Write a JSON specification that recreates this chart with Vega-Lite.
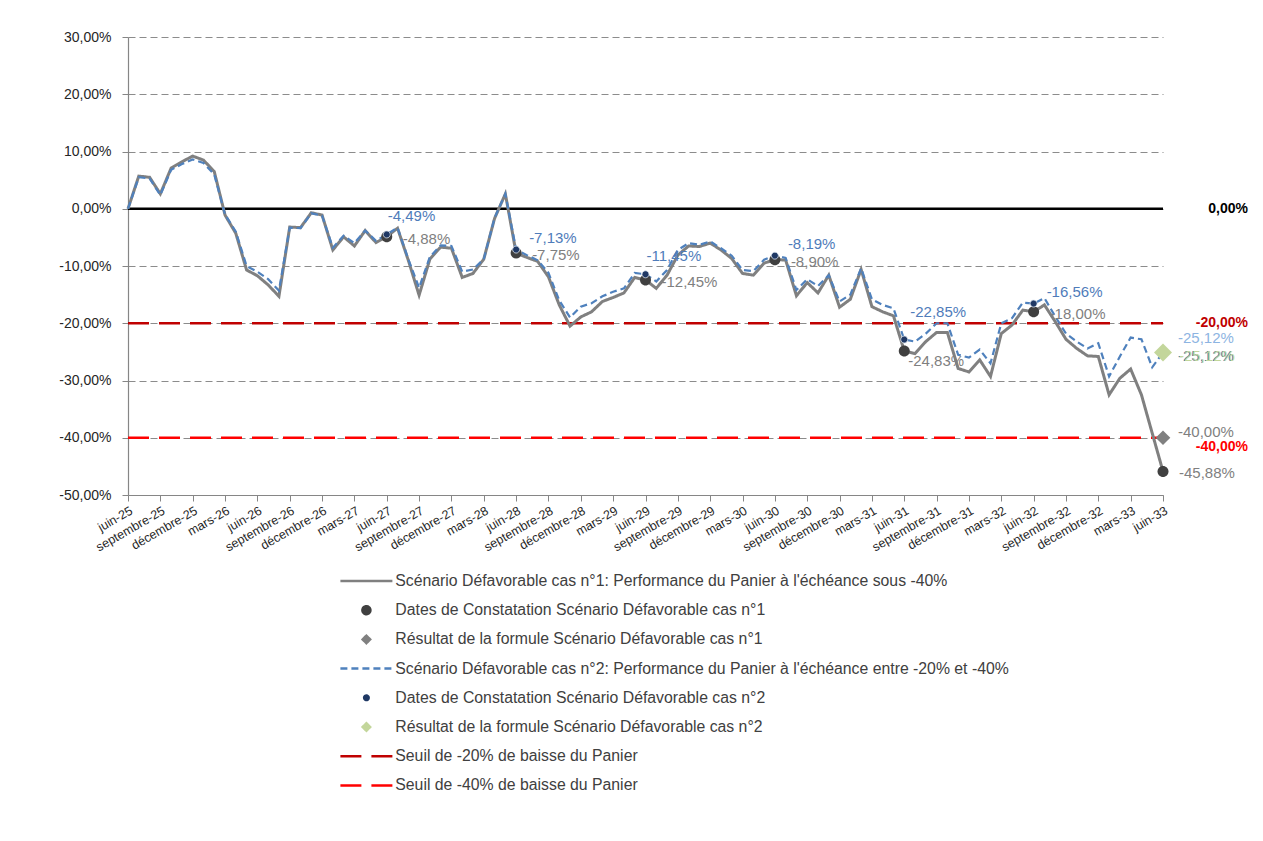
{
  "$schema": "https://vega.github.io/schema/vega-lite/v6.json",
  "width": 1035,
  "height": 458,
  "autosize": {"type": "none"},
  "padding": {"left": 128, "top": 37, "right": 100, "bottom": 346},
  "background": "white",
  "config": {
    "font": "Liberation Sans",
    "view": {"stroke": null},
    "locale": {
      "number": {"decimal": ",", "thousands": " ", "grouping": [3], "currency": ["", " €"], "minus": "-", "percent": "%"}
    }
  },
  "datasets": {
    "perf": [
      {"m": 0, "date": "2025-06", "cas1": 0, "cas2": 0},
      {"m": 1, "date": "2025-07", "cas1": 0.057, "cas2": 0.055},
      {"m": 2, "date": "2025-08", "cas1": 0.055, "cas2": 0.053},
      {"m": 3, "date": "2025-09", "cas1": 0.026, "cas2": 0.024},
      {"m": 4, "date": "2025-10", "cas1": 0.071, "cas2": 0.068},
      {"m": 5, "date": "2025-11", "cas1": 0.082, "cas2": 0.078},
      {"m": 6, "date": "2025-12", "cas1": 0.092, "cas2": 0.086},
      {"m": 7, "date": "2026-01", "cas1": 0.085, "cas2": 0.080},
      {"m": 8, "date": "2026-02", "cas1": 0.065, "cas2": 0.060},
      {"m": 9, "date": "2026-03", "cas1": -0.011, "cas2": -0.010},
      {"m": 10, "date": "2026-04", "cas1": -0.043, "cas2": -0.040},
      {"m": 11, "date": "2026-05", "cas1": -0.107, "cas2": -0.100},
      {"m": 12, "date": "2026-06", "cas1": -0.117, "cas2": -0.110},
      {"m": 13, "date": "2026-07", "cas1": -0.133, "cas2": -0.123},
      {"m": 14, "date": "2026-08", "cas1": -0.153, "cas2": -0.143},
      {"m": 15, "date": "2026-09", "cas1": -0.032, "cas2": -0.033},
      {"m": 16, "date": "2026-10", "cas1": -0.033, "cas2": -0.034},
      {"m": 17, "date": "2026-11", "cas1": -0.007, "cas2": -0.008},
      {"m": 18, "date": "2026-12", "cas1": -0.011, "cas2": -0.012},
      {"m": 19, "date": "2027-01", "cas1": -0.072, "cas2": -0.068},
      {"m": 20, "date": "2027-02", "cas1": -0.049, "cas2": -0.047},
      {"m": 21, "date": "2027-03", "cas1": -0.065, "cas2": -0.060},
      {"m": 22, "date": "2027-04", "cas1": -0.038, "cas2": -0.038},
      {"m": 23, "date": "2027-05", "cas1": -0.059, "cas2": -0.056},
      {"m": 24, "date": "2027-06", "cas1": -0.0488, "cas2": -0.0449},
      {"m": 25, "date": "2027-07", "cas1": -0.034, "cas2": -0.033},
      {"m": 26, "date": "2027-08", "cas1": -0.090, "cas2": -0.088},
      {"m": 27, "date": "2027-09", "cas1": -0.151, "cas2": -0.138},
      {"m": 28, "date": "2027-10", "cas1": -0.088, "cas2": -0.084},
      {"m": 29, "date": "2027-11", "cas1": -0.067, "cas2": -0.064},
      {"m": 30, "date": "2027-12", "cas1": -0.069, "cas2": -0.065},
      {"m": 31, "date": "2028-01", "cas1": -0.120, "cas2": -0.110},
      {"m": 32, "date": "2028-02", "cas1": -0.113, "cas2": -0.106},
      {"m": 33, "date": "2028-03", "cas1": -0.088, "cas2": -0.088},
      {"m": 34, "date": "2028-04", "cas1": -0.017, "cas2": -0.016},
      {"m": 35, "date": "2028-05", "cas1": 0.026, "cas2": 0.026},
      {"m": 36, "date": "2028-06", "cas1": -0.0775, "cas2": -0.0713},
      {"m": 37, "date": "2028-07", "cas1": -0.085, "cas2": -0.081},
      {"m": 38, "date": "2028-08", "cas1": -0.092, "cas2": -0.090},
      {"m": 39, "date": "2028-09", "cas1": -0.119, "cas2": -0.112},
      {"m": 40, "date": "2028-10", "cas1": -0.168, "cas2": -0.160},
      {"m": 41, "date": "2028-11", "cas1": -0.205, "cas2": -0.190},
      {"m": 42, "date": "2028-12", "cas1": -0.189, "cas2": -0.171},
      {"m": 43, "date": "2029-01", "cas1": -0.180, "cas2": -0.165},
      {"m": 44, "date": "2029-02", "cas1": -0.162, "cas2": -0.153},
      {"m": 45, "date": "2029-03", "cas1": -0.155, "cas2": -0.145},
      {"m": 46, "date": "2029-04", "cas1": -0.147, "cas2": -0.139},
      {"m": 47, "date": "2029-05", "cas1": -0.120, "cas2": -0.112},
      {"m": 48, "date": "2029-06", "cas1": -0.1245, "cas2": -0.1145},
      {"m": 49, "date": "2029-07", "cas1": -0.139, "cas2": -0.127},
      {"m": 50, "date": "2029-08", "cas1": -0.116, "cas2": -0.107},
      {"m": 51, "date": "2029-09", "cas1": -0.081, "cas2": -0.072},
      {"m": 52, "date": "2029-10", "cas1": -0.065, "cas2": -0.060},
      {"m": 53, "date": "2029-11", "cas1": -0.066, "cas2": -0.063},
      {"m": 54, "date": "2029-12", "cas1": -0.060, "cas2": -0.057},
      {"m": 55, "date": "2030-01", "cas1": -0.072, "cas2": -0.069},
      {"m": 56, "date": "2030-02", "cas1": -0.087, "cas2": -0.082},
      {"m": 57, "date": "2030-03", "cas1": -0.113, "cas2": -0.107},
      {"m": 58, "date": "2030-04", "cas1": -0.116, "cas2": -0.109},
      {"m": 59, "date": "2030-05", "cas1": -0.095, "cas2": -0.089},
      {"m": 60, "date": "2030-06", "cas1": -0.0890, "cas2": -0.0819},
      {"m": 61, "date": "2030-07", "cas1": -0.0895, "cas2": -0.086},
      {"m": 62, "date": "2030-08", "cas1": -0.152, "cas2": -0.142},
      {"m": 63, "date": "2030-09", "cas1": -0.129, "cas2": -0.123},
      {"m": 64, "date": "2030-10", "cas1": -0.147, "cas2": -0.135},
      {"m": 65, "date": "2030-11", "cas1": -0.116, "cas2": -0.116},
      {"m": 66, "date": "2030-12", "cas1": -0.172, "cas2": -0.162},
      {"m": 67, "date": "2031-01", "cas1": -0.158, "cas2": -0.150},
      {"m": 68, "date": "2031-02", "cas1": -0.106, "cas2": -0.104},
      {"m": 69, "date": "2031-03", "cas1": -0.171, "cas2": -0.158},
      {"m": 70, "date": "2031-04", "cas1": -0.180, "cas2": -0.168},
      {"m": 71, "date": "2031-05", "cas1": -0.187, "cas2": -0.174},
      {"m": 72, "date": "2031-06", "cas1": -0.2483, "cas2": -0.2285},
      {"m": 73, "date": "2031-07", "cas1": -0.253, "cas2": -0.232},
      {"m": 74, "date": "2031-08", "cas1": -0.232, "cas2": -0.218},
      {"m": 75, "date": "2031-09", "cas1": -0.216, "cas2": -0.200},
      {"m": 76, "date": "2031-10", "cas1": -0.216, "cas2": -0.200},
      {"m": 77, "date": "2031-11", "cas1": -0.279, "cas2": -0.255},
      {"m": 78, "date": "2031-12", "cas1": -0.285, "cas2": -0.260},
      {"m": 79, "date": "2032-01", "cas1": -0.264, "cas2": -0.246},
      {"m": 80, "date": "2032-02", "cas1": -0.293, "cas2": -0.270},
      {"m": 81, "date": "2032-03", "cas1": -0.218, "cas2": -0.200},
      {"m": 82, "date": "2032-04", "cas1": -0.203, "cas2": -0.191},
      {"m": 83, "date": "2032-05", "cas1": -0.177, "cas2": -0.164},
      {"m": 84, "date": "2032-06", "cas1": -0.1800, "cas2": -0.1656},
      {"m": 85, "date": "2032-07", "cas1": -0.168, "cas2": -0.156},
      {"m": 86, "date": "2032-08", "cas1": -0.197, "cas2": -0.188},
      {"m": 87, "date": "2032-09", "cas1": -0.228, "cas2": -0.218},
      {"m": 88, "date": "2032-10", "cas1": -0.244, "cas2": -0.232},
      {"m": 89, "date": "2032-11", "cas1": -0.257, "cas2": -0.244},
      {"m": 90, "date": "2032-12", "cas1": -0.258, "cas2": -0.235},
      {"m": 91, "date": "2033-01", "cas1": -0.325, "cas2": -0.293},
      {"m": 92, "date": "2033-02", "cas1": -0.296, "cas2": -0.258},
      {"m": 93, "date": "2033-03", "cas1": -0.280, "cas2": -0.225},
      {"m": 94, "date": "2033-04", "cas1": -0.325, "cas2": -0.228},
      {"m": 95, "date": "2033-05", "cas1": -0.392, "cas2": -0.277},
      {"m": 96, "date": "2033-06", "cas1": -0.4588, "cas2": -0.2512}
    ],
    "constat": [
      {"m": 24, "date": "2027-06", "cas1": -0.0488, "cas2": -0.0449},
      {"m": 36, "date": "2028-06", "cas1": -0.0775, "cas2": -0.0713},
      {"m": 48, "date": "2029-06", "cas1": -0.1245, "cas2": -0.1145},
      {"m": 60, "date": "2030-06", "cas1": -0.0890, "cas2": -0.0819},
      {"m": 72, "date": "2031-06", "cas1": -0.2483, "cas2": -0.2285},
      {"m": 84, "date": "2032-06", "cas1": -0.1800, "cas2": -0.1656},
      {"m": 96, "date": "2033-06", "cas1": -0.4588, "cas2": -0.2512}
    ],
    "resultat": [
      {"m": 96, "date": "2033-06", "cas1": -0.40, "cas2": -0.2512}
    ],
    "seuils": [
      {"m": 0, "m2": 96, "v": 0},
      {"m": 0, "m2": 96, "v": -0.2},
      {"m": 0, "m2": 96, "v": -0.4}
    ]
  },
  "encoding": {
    "x": {
      "field": "m", "type": "quantitative",
      "scale": {"domain": [0, 96], "nice": false, "zero": false},
      "axis": {
        "title": null, "grid": false,
        "values": [0, 3, 6, 9, 12, 15, 18, 21, 24, 27, 30, 33, 36, 39, 42, 45, 48, 51, 54, 57, 60, 63, 66, 69, 72, 75, 78, 81, 84, 87, 90, 93, 96],
        "labelExpr": "['juin','septembre','décembre','mars'][(datum.value/3)%4] + '-' + (25 + floor((datum.value+5)/12))",
        "labelAngle": -30, "labelAlign": "right", "labelBaseline": "top", "labelFontSize": 12.5, "labelColor": "#262626",
        "labelOverlap": false, "labelFlush": false, "labelBound": false, "labelPadding": 3,
        "tickSize": 6, "tickColor": "#868686", "domainColor": "#868686", "domainWidth": 1.2
      }
    }
  },
  "layer": [
    {
      "data": {"name": "seuils"},
      "transform": [{"filter": "datum.v === -0.2"}],
      "mark": {"type": "rule", "strokeWidth": 2.5},
      "encoding": {
        "x2": {"field": "m2"},
        "y": {
          "field": "v", "type": "quantitative",
          "scale": {"domain": [-0.5, 0.3], "nice": false, "zero": false},
          "axis": {
            "title": null, "format": ".2%", "values": [-0.5, -0.4, -0.3, -0.2, -0.1, 0, 0.1, 0.2, 0.3],
            "grid": true, "gridDash": [7, 4], "gridColor": "#8c8c8c", "gridWidth": 1.2,
            "domainColor": "#868686", "domainWidth": 1.2, "tickColor": "#868686", "tickSize": 6,
            "labelFontSize": 14, "labelColor": "#262626", "labelPadding": 11
          }
        },
        "color": {
          "datum": "Seuil de -20% de baisse du Panier",
          "scale": {
            "domain": [
              "Scénario Défavorable cas n°1: Performance du Panier à l'échéance sous -40%",
              "Dates de Constatation Scénario Défavorable cas n°1",
              "Résultat de la formule Scénario Défavorable cas n°1",
              "Scénario Défavorable cas n°2: Performance du Panier à l'échéance entre -20% et -40%",
              "Dates de Constatation Scénario Défavorable cas n°2",
              "Résultat de la formule Scénario Défavorable cas n°2",
              "Seuil de -20% de baisse du Panier",
              "Seuil de -40% de baisse du Panier"
            ],
            "range": ["#808080", "#404040", "#808080", "#4f81bd", "#1f3864", "#c3d69b", "#c00000", "#ff0000"]
          },
          "legend": {
            "orient": "none", "legendX": 212, "legendY": 535.5, "title": null, "direction": "vertical", "padding": 0,
            "symbolSize": 100, "symbolStrokeWidth": 2.5, "symbolOffset": 18.5, "labelOffset": 21,
            "labelFontSize": 15.8, "labelColor": "#404040", "labelLimit": 900, "rowPadding": 12.2, "clipHeight": 17
          }
        },
        "strokeDash": {
          "datum": "Seuil de -20% de baisse du Panier",
          "scale": {
            "domain": [
              "Scénario Défavorable cas n°1: Performance du Panier à l'échéance sous -40%",
              "Dates de Constatation Scénario Défavorable cas n°1",
              "Résultat de la formule Scénario Défavorable cas n°1",
              "Scénario Défavorable cas n°2: Performance du Panier à l'échéance entre -20% et -40%",
              "Dates de Constatation Scénario Défavorable cas n°2",
              "Résultat de la formule Scénario Défavorable cas n°2",
              "Seuil de -20% de baisse du Panier",
              "Seuil de -40% de baisse du Panier"
            ],
            "range": [[1, 0], [1, 0], [1, 0], [7, 4], [1, 0], [1, 0], [21, 10], [21, 10]]
          }
        }
      }
    },
    {
      "data": {"name": "seuils"},
      "transform": [{"filter": "datum.v === -0.4"}],
      "mark": {"type": "rule", "strokeWidth": 2.5},
      "encoding": {
        "x2": {"field": "m2"},
        "y": {"field": "v", "type": "quantitative"},
        "color": {"datum": "Seuil de -40% de baisse du Panier"},
        "strokeDash": {"datum": "Seuil de -40% de baisse du Panier"}
      }
    },
    {
      "data": {"name": "seuils"},
      "transform": [{"filter": "datum.v === 0"}],
      "mark": {"type": "rule", "strokeWidth": 2.5, "color": "#000000"},
      "encoding": {
        "x2": {"field": "m2"},
        "y": {"field": "v", "type": "quantitative"}
      }
    },
    {
      "data": {"name": "perf"},
      "mark": {"type": "line", "strokeWidth": 3},
      "encoding": {
        "y": {"field": "cas1", "type": "quantitative"},
        "color": {"datum": "Scénario Défavorable cas n°1: Performance du Panier à l'échéance sous -40%"},
        "strokeDash": {"datum": "Scénario Défavorable cas n°1: Performance du Panier à l'échéance sous -40%"}
      }
    },
    {
      "data": {"name": "perf"},
      "mark": {"type": "line", "strokeWidth": 2.2},
      "encoding": {
        "y": {"field": "cas2", "type": "quantitative"},
        "color": {"datum": "Scénario Défavorable cas n°2: Performance du Panier à l'échéance entre -20% et -40%"},
        "strokeDash": {"datum": "Scénario Défavorable cas n°2: Performance du Panier à l'échéance entre -20% et -40%"}
      }
    },
    {
      "data": {"name": "constat"},
      "mark": {"type": "point", "filled": true, "size": 189, "opacity": 1},
      "encoding": {
        "y": {"field": "cas1", "type": "quantitative"},
        "color": {"datum": "Dates de Constatation Scénario Défavorable cas n°1"},
        "shape": {
          "datum": "Dates de Constatation Scénario Défavorable cas n°1",
          "scale": {
            "domain": [
              "Scénario Défavorable cas n°1: Performance du Panier à l'échéance sous -40%",
              "Dates de Constatation Scénario Défavorable cas n°1",
              "Résultat de la formule Scénario Défavorable cas n°1",
              "Scénario Défavorable cas n°2: Performance du Panier à l'échéance entre -20% et -40%",
              "Dates de Constatation Scénario Défavorable cas n°2",
              "Résultat de la formule Scénario Défavorable cas n°2",
              "Seuil de -20% de baisse du Panier",
              "Seuil de -40% de baisse du Panier"
            ],
            "range": [
              "M-5.2,0L5.2,0",
              "M-0.8,0A0.8,0.8 0 1,0 0.8,0A0.8,0.8 0 1,0 -0.8,0Z",
              "M0,-0.75L0.75,0L0,0.75L-0.75,0Z",
              "M-5.2,0L5.2,0",
              "M-0.45,0A0.45,0.45 0 1,0 0.45,0A0.45,0.45 0 1,0 -0.45,0Z",
              "M0,-0.75L0.75,0L0,0.75L-0.75,0Z",
              "M-5.2,0L5.2,0",
              "M-5.2,0L5.2,0"
            ]
          }
        }
      }
    },
    {
      "data": {"name": "constat"},
      "mark": {"type": "point", "filled": true, "size": 243, "opacity": 1, "stroke": "#dde6f0", "strokeWidth": 0.8},
      "encoding": {
        "y": {"field": "cas2", "type": "quantitative"},
        "color": {"datum": "Dates de Constatation Scénario Défavorable cas n°2"},
        "shape": {"datum": "Dates de Constatation Scénario Défavorable cas n°2"}
      }
    },
    {
      "data": {"name": "resultat"},
      "mark": {"type": "point", "filled": true, "size": 380, "opacity": 1},
      "encoding": {
        "y": {"field": "cas1", "type": "quantitative"},
        "color": {"datum": "Résultat de la formule Scénario Défavorable cas n°1"},
        "shape": {"datum": "Résultat de la formule Scénario Défavorable cas n°1"}
      }
    },
    {
      "data": {"name": "resultat"},
      "mark": {"type": "point", "filled": true, "size": 576, "opacity": 1},
      "encoding": {
        "y": {"field": "cas2", "type": "quantitative"},
        "color": {"datum": "Résultat de la formule Scénario Défavorable cas n°2"},
        "shape": {"datum": "Résultat de la formule Scénario Défavorable cas n°2"}
      }
    },
    {
      "data": {"name": "constat"},
      "transform": [{"filter": "datum.m !== 72"}],
      "mark": {"type": "text", "align": "left", "baseline": "middle", "dx": 16, "dy": 2, "fontSize": 15, "color": "#7f7f7f"},
      "encoding": {
        "y": {"field": "cas1", "type": "quantitative"},
        "text": {"field": "cas1", "type": "quantitative", "format": ".2%"}
      }
    },
    {
      "data": {"name": "constat"},
      "transform": [{"filter": "datum.m === 72"}],
      "mark": {"type": "text", "align": "left", "baseline": "middle", "dx": 4, "dy": 10, "fontSize": 15, "color": "#7f7f7f"},
      "encoding": {
        "y": {"field": "cas1", "type": "quantitative"},
        "text": {"field": "cas1", "type": "quantitative", "format": ".2%"}
      }
    },
    {
      "data": {"name": "constat"},
      "transform": [{"filter": "datum.m === 24 || datum.m === 48"}],
      "mark": {"type": "text", "align": "left", "baseline": "middle", "dx": 1, "dy": -18, "fontSize": 15, "color": "#4f7cba"},
      "encoding": {
        "y": {"field": "cas2", "type": "quantitative"},
        "text": {"field": "cas2", "type": "quantitative", "format": ".2%"}
      }
    },
    {
      "data": {"name": "constat"},
      "transform": [{"filter": "datum.m === 36 || datum.m === 60 || datum.m === 84"}],
      "mark": {"type": "text", "align": "left", "baseline": "middle", "dx": 13, "dy": -12, "fontSize": 15, "color": "#4f7cba"},
      "encoding": {
        "y": {"field": "cas2", "type": "quantitative"},
        "text": {"field": "cas2", "type": "quantitative", "format": ".2%"}
      }
    },
    {
      "data": {"name": "constat"},
      "transform": [{"filter": "datum.m === 72"}],
      "mark": {"type": "text", "align": "left", "baseline": "middle", "dx": 6, "dy": -28, "fontSize": 15, "color": "#4f7cba"},
      "encoding": {
        "y": {"field": "cas2", "type": "quantitative"},
        "text": {"field": "cas2", "type": "quantitative", "format": ".2%"}
      }
    },
    {
      "data": {"name": "constat"},
      "transform": [{"filter": "datum.m === 96"}],
      "mark": {"type": "text", "align": "left", "baseline": "middle", "dx": 15, "dy": -15, "fontSize": 15, "color": "#8db4e2"},
      "encoding": {
        "y": {"field": "cas2", "type": "quantitative"},
        "text": {"field": "cas2", "type": "quantitative", "format": ".2%"}
      }
    },
    {
      "data": {"name": "resultat"},
      "mark": {"type": "text", "align": "left", "baseline": "middle", "dx": 15, "dy": -6, "fontSize": 15, "color": "#7f7f7f"},
      "encoding": {
        "y": {"field": "cas1", "type": "quantitative"},
        "text": {"field": "cas1", "type": "quantitative", "format": ".2%"}
      }
    },
    {
      "data": {"name": "resultat"},
      "mark": {"type": "text", "align": "left", "baseline": "middle", "dx": 15, "dy": 3, "fontSize": 15, "color": "#4a6a9a"},
      "encoding": {
        "y": {"field": "cas2", "type": "quantitative"},
        "text": {"field": "cas2", "type": "quantitative", "format": ".2%"}
      }
    },
    {
      "data": {"name": "resultat"},
      "mark": {"type": "text", "align": "left", "baseline": "middle", "dx": 16, "dy": 3, "fontSize": 15, "color": "#c3d69b"},
      "encoding": {
        "y": {"field": "cas2", "type": "quantitative"},
        "text": {"field": "cas2", "type": "quantitative", "format": ".2%"}
      }
    },
    {
      "data": {"name": "seuils"},
      "transform": [{"filter": "datum.v > -0.3"}],
      "mark": {"type": "text", "align": "right", "baseline": "middle", "dx": 85, "dy": 0, "fontSize": 14, "fontWeight": "bold"},
      "encoding": {
        "x": {"field": "m2", "type": "quantitative"},
        "y": {"field": "v", "type": "quantitative"},
        "text": {"field": "v", "type": "quantitative", "format": ".2%"},
        "color": {"condition": {"test": "datum.v === 0", "value": "#000000"}, "value": "#c00000"}
      }
    },
    {
      "data": {"name": "seuils"},
      "transform": [{"filter": "datum.v < -0.3"}],
      "mark": {"type": "text", "align": "right", "baseline": "middle", "dx": 85, "dy": 9, "fontSize": 14, "fontWeight": "bold", "color": "#ff0000"},
      "encoding": {
        "x": {"field": "m2", "type": "quantitative"},
        "y": {"field": "v", "type": "quantitative"},
        "text": {"field": "v", "type": "quantitative", "format": ".2%"}
      }
    }
  ]
}
